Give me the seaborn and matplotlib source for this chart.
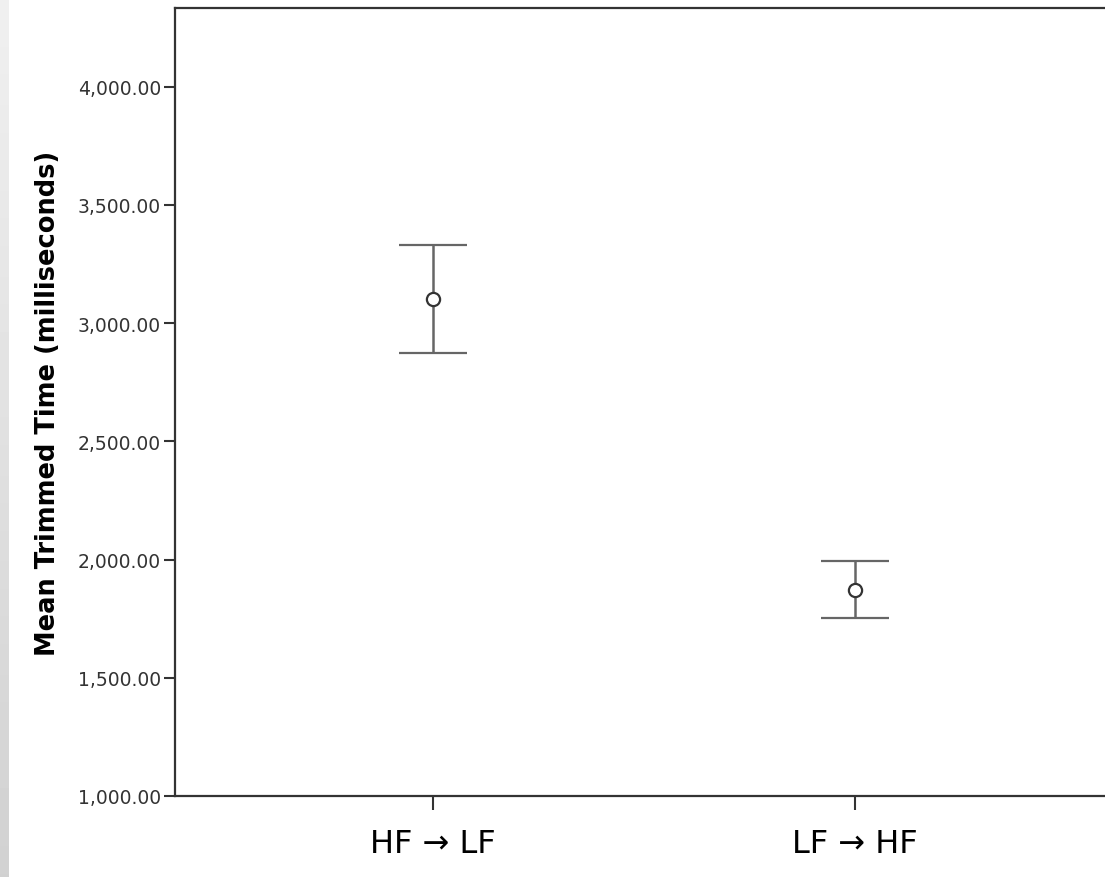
import numpy as np
import matplotlib
matplotlib.use("Agg")
import matplotlib.pyplot as plt
import seaborn as sns

# Data
conditions = ["HF \u2192 LF", "LF \u2192 HF"]
means = [3102, 1873]
ci_low = [2874, 1752]
ci_high = [3331, 1995]
y_ticks = [1000, 1500, 2000, 2500, 3000, 3500, 4000]

sns.set_style("white")
plt.rcParams['font.family'] = ['DejaVu Sans']

fig = plt.figure(figsize=(11.05, 8.78), dpi=100)

# grey gradient strip on the left edge
strip = fig.add_axes([0, 0, 9 / 1105, 1])
grad = np.linspace(0.94, 0.82, 256).reshape(-1, 1)
strip.imshow(grad, aspect="auto", cmap="gray", vmin=0, vmax=1)
strip.axis("off")

ax = fig.add_axes([175 / 1105, 81 / 878, 938 / 1105, 788 / 878])

# error bars (95% CI)
x_pos = np.arange(len(conditions))
yerr = [np.array(means) - np.array(ci_low), np.array(ci_high) - np.array(means)]
ax.errorbar(x_pos, means, yerr=yerr, fmt="none", ecolor="#666666",
            elinewidth=1.8, capsize=24.5, capthick=1.6, zorder=2)
caps = ax.containers[-1].lines[1]
for c in caps:
    c.set_color("#333333")

sns.pointplot(x=conditions, y=means, ax=ax, linestyle="none", marker="o",
              color="#333333", markersize=9.5, markerfacecolor="white",
              markeredgewidth=1.6, errorbar=None, zorder=3)

ax.set_xlim(-0.611, 1.611)
ax.set_ylim(1000, 4333)
ax.set_yticks(y_ticks)
ax.set_yticklabels([f"{v:,.2f}" for v in y_ticks], fontsize=13.5, color="#333333")
ax.set_xticks(x_pos)
ax.set_xticklabels(conditions, fontsize=23, color="black")

ax.tick_params(axis="y", direction="out", length=8, width=1.5, color="#333333",
               pad=2, left=True)
ax.tick_params(axis="x", direction="out", length=10, width=1.5, color="#333333",
               pad=13, bottom=True)

for side in ["left", "top", "bottom"]:
    ax.spines[side].set_color("#333333")
    ax.spines[side].set_linewidth(1.6)
    ax.spines[side].set_visible(True)
ax.spines["right"].set_visible(False)

ax.set_xlabel("")
ax.set_ylabel("Mean Trimmed Time (milliseconds)", fontsize=18.5,
              fontweight="bold", labelpad=12, color="black")

fig.savefig("out.png", dpi=100)
